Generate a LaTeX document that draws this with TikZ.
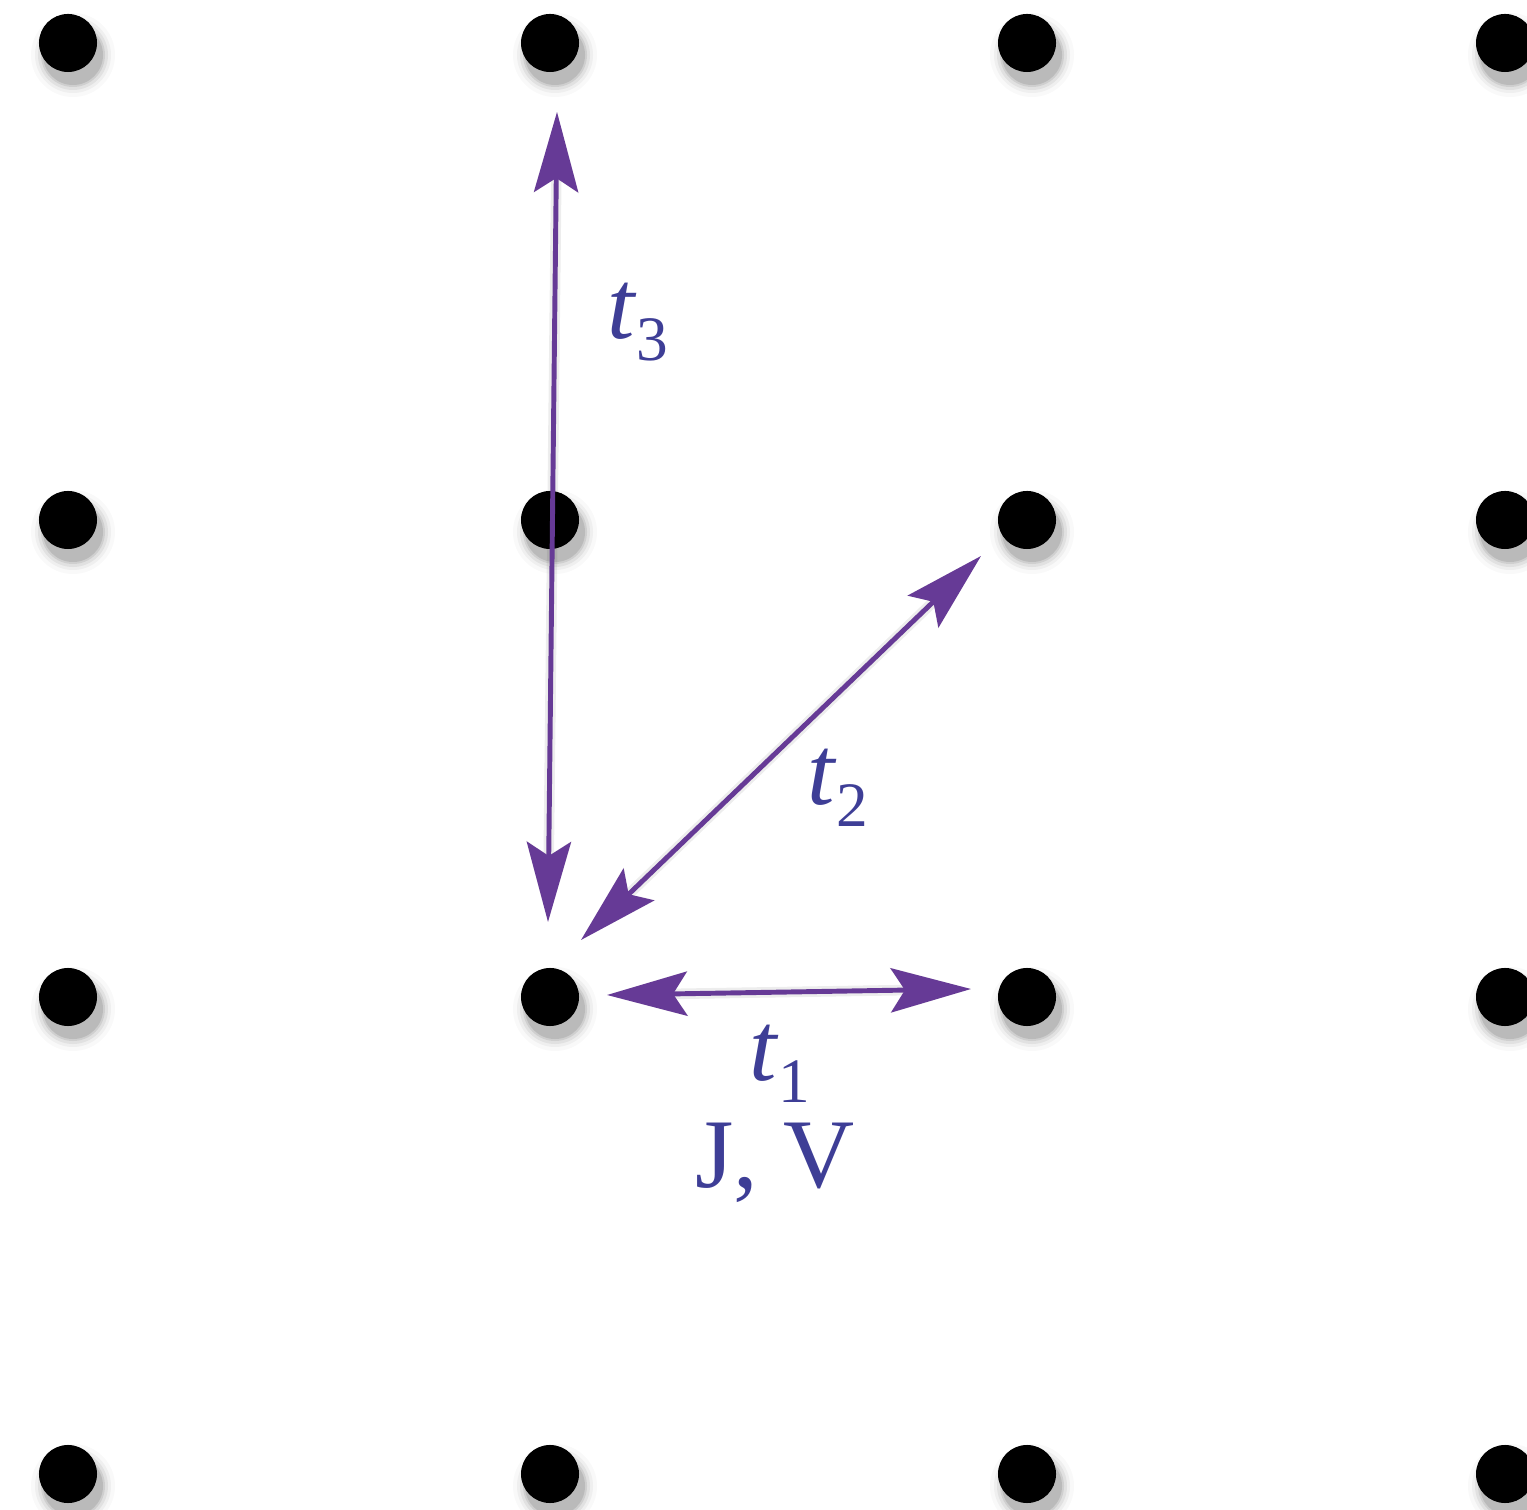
\documentclass[tikz,border=0pt]{standalone}
\usepackage{fontspec}
\setmainfont{Liberation Serif}
\usetikzlibrary{arrows.meta}
\definecolor{HopPurple}{RGB}{102, 58, 150}
\definecolor{LabelBlue}{RGB}{62, 62, 150}

\tikzset{
  site/.style={circle, fill=black, inner sep=0pt, minimum size=0.58cm},
  hop/.style={HopPurple, line width=1.4pt,
    {Stealth[length=0.8cm, width=0.44cm, inset=0.14cm]}-{Stealth[length=0.8cm, width=0.44cm, inset=0.14cm]}},
  hopshade/.style={hop, black, opacity=0.07, line width=3pt},
  hoplabel/.style={text=LabelBlue, inner sep=0pt, font=\fontsize{28}{30}\selectfont},
}
\newcommand{\hopsub}[1]{\textit{t}\raisebox{-0.22em}{\fontsize{18}{18}\selectfont #1}}

\begin{document}
\begin{tikzpicture}[x=0.01cm, y=-0.01cm]
    \clip (0,0) rectangle (1527,1510);
    \useasboundingbox (0,0) rectangle (1527,1510);

    % Lattice sites with soft shadows
    \foreach \x/\i in {68/1, 550/2, 1027/3, 1505/4} {
      \foreach \y/\j in {43/1, 520/2, 997/3, 1474/4} {
        \foreach \r/\o in {0.42/0.025, 0.38/0.04, 0.35/0.06, 0.32/0.08, 0.30/0.10} {
          \fill[black, opacity=\o] (\x+5,\y+12) circle (\r cm);
        }
        \node[site] (s\i\j) at (\x,\y) {};
      }
    }

    % Arrow ends
    \coordinate (t1a) at (607,995);
    \coordinate (t1b) at (971,989);
    \coordinate (t2a) at (581,940);
    \coordinate (t2b) at (981,556);
    \coordinate (t3a) at (548,922);
    \coordinate (t3b) at (557,112);

    % Hoppings
    \begin{scope}[shift={(4,10)}]
      \draw[hopshade] (t1a) -- (t1b);
      \draw[hopshade] (t2a) -- (t2b);
      \draw[hopshade] (t3a) -- (t3b);
    \end{scope}
    \draw[hop] (t1a) -- (t1b);
    \draw[hop] (t2a) -- (t2b);
    \draw[hop] (t3a) -- (t3b);

    % Labels
    \node[hoplabel] (l3) at (638,322) {\hopsub{3}};
    \node[hoplabel] (l2) at (838,788) {\hopsub{2}};
    \node[hoplabel] (l1) at (780,1064) {\hopsub{1}};
    \node[hoplabel] (jv) at (775,1163) {J, V};
  \end{tikzpicture}
\end{document}
